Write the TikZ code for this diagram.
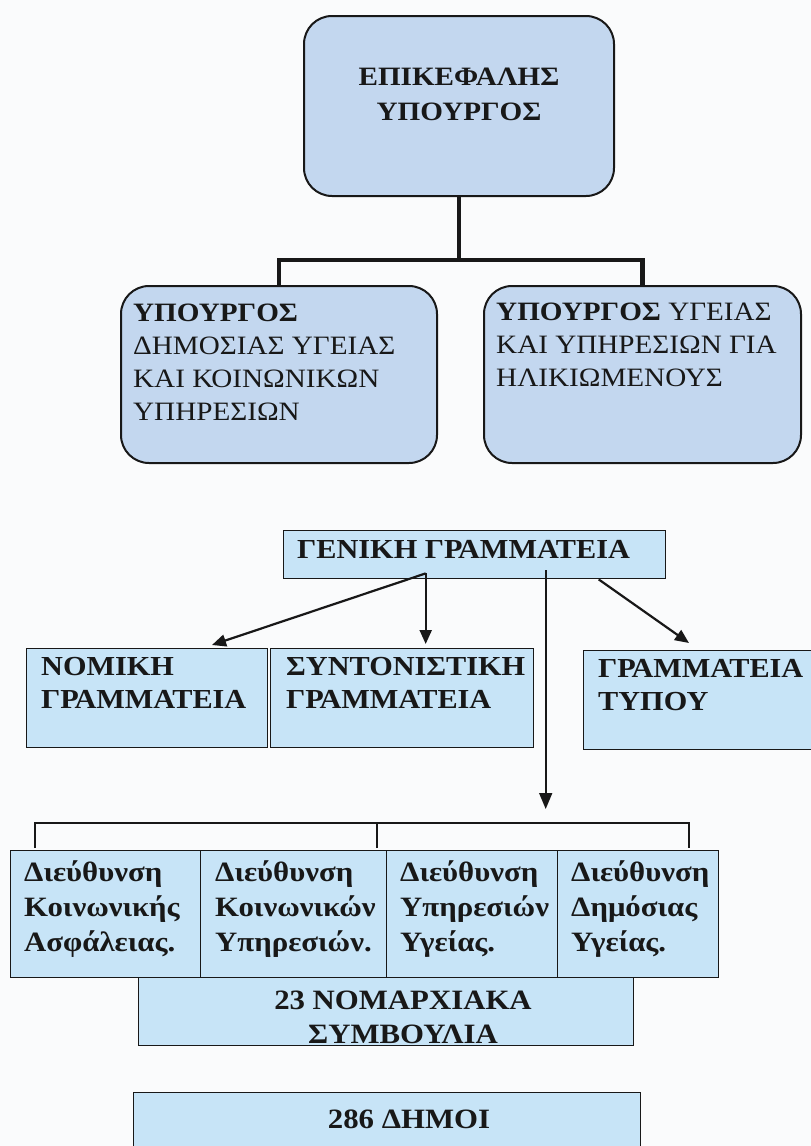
\documentclass[tikz,border=0pt]{standalone}
\usepackage{fontspec}
\setmainfont{Liberation Serif}[FakeStretch=1.1]
\usetikzlibrary{arrows.meta,calc}
\definecolor{paper}{RGB}{250,251,252}
\definecolor{roundfill}{RGB}{195,215,239}
\definecolor{rectfill}{RGB}{199,228,247}
\definecolor{ink}{RGB}{24,24,24}
\begin{document}
\begin{tikzpicture}[x=1pt,y=-1pt,
  rbox/.style={draw=ink, line width=2pt, fill=roundfill, rounded corners=28pt,
               inner sep=0pt, anchor=north west},
  sbox/.style={draw=ink, line width=1.4pt, fill=rectfill, inner sep=0pt, anchor=north west},
  lbl/.style={inner sep=0pt, align=left, anchor=north west, text=ink,
              font=\fontsize{26.5}{33}\selectfont},
  blbl/.style={lbl, font=\fontsize{27.5}{33}\selectfont\bfseries},
  dlbl/.style={lbl, font=\fontsize{28}{35}\selectfont\bfseries},
  clbl/.style={inner sep=0pt, align=center, text=ink,
               font=\fontsize{28}{34}\selectfont\bfseries},
  tree/.style={draw=ink, line width=4.5pt},
  arr/.style={draw=ink, line width=2.2pt, -{Triangle[length=14pt,width=12pt]}},
  longarr/.style={draw=ink, line width=1.6pt, -{Triangle[length=16pt,width=13pt]}},
  bline/.style={draw=ink, line width=1.5pt}]
\useasboundingbox (0,0) rectangle (811,1146);
\clip (0,0) rectangle (811,1146);
\fill[paper] (0,0) rectangle (811,1146);

% ministers
\node[rbox, minimum width=310pt, minimum height=180pt] (chief) at (303,15) {};
\node[rbox, minimum width=316pt, minimum height=177pt] (minA) at (120,285) {};
\node[rbox, minimum width=317pt, minimum height=177pt] (minB) at (483,285) {};

\node[clbl, font=\fontsize{26.5}{35}\selectfont\bfseries] (chief-t) at (459,94) {ΕΠΙΚΕΦΑΛΗΣ\\ΥΠΟΥΡΓΟΣ};
\node[lbl] (minA-t) at (133,304) {{\bfseries ΥΠΟΥΡΓΟΣ}\\ΔΗΜΟΣΙΑΣ ΥΓΕΙΑΣ\\ΚΑΙ ΚΟΙΝΩΝΙΚΩΝ\\ΥΠΗΡΕΣΙΩΝ};
\node[lbl] (minB-t) at (496,303) {{\bfseries ΥΠΟΥΡΓΟΣ} ΥΓΕΙΑΣ\\ΚΑΙ ΥΠΗΡΕΣΙΩΝ ΓΙΑ\\ΗΛΙΚΙΩΜΕΝΟΥΣ};

\coordinate (split) at (459,260);
\draw[tree] (chief.south) -- (split);
\draw[tree] (minA.north) |- (split) -| (minB.north);

% general secretariat and its offices
\node[sbox, minimum width=382pt, minimum height=48pt] (gen) at (283,530) {};
\node[sbox, minimum width=241pt, minimum height=99pt] (legal) at (26,648) {};
\node[sbox, minimum width=263pt, minimum height=99pt] (coord) at (270,648) {};
\node[sbox, minimum width=240pt, minimum height=99pt] (press) at (583,650) {};

\node[blbl] (gen-t) at (297,540) {ΓΕΝΙΚΗ ΓΡΑΜΜΑΤΕΙΑ};
\node[blbl] (legal-t) at (41,657) {ΝΟΜΙΚΗ\\ΓΡΑΜΜΑΤΕΙΑ};
\node[blbl] (coord-t) at (286,657) {ΣΥΝΤΟΝΙΣΤΙΚΗ\\ΓΡΑΜΜΑΤΕΙΑ};
\node[blbl] (press-t) at (598,659) {ΓΡΑΜΜΑΤΕΙΑ\\ΤΥΠΟΥ};

\coordinate (g1) at ([xshift=-49pt,yshift=6pt]gen.south);
\coordinate (g2) at ([xshift=71pt,yshift=9pt]gen.south);
\coordinate (g3) at ([xshift=124pt]gen.south);
\draw[arr] (g1) -- ($(legal.north west)+(186,-3)$);
\draw[arr] (g1) -- ($(g1 |- coord.north)+(0,-4)$);
\draw[arr] (g3) -- ($(press.north west)+(106,-7)$);

% directorates
\node[sbox, minimum width=190pt, minimum height=127pt] (dir1) at (10,850) {};
\node[sbox, minimum width=186pt, minimum height=127pt] (dir2) at (200,850) {};
\node[sbox, minimum width=171pt, minimum height=127pt] (dir3) at (386,850) {};
\node[sbox, minimum width=161pt, minimum height=127pt] (dir4) at (557,850) {};

\node[dlbl] (dir1-t) at (24,860) {Διεύθυνση\\Κοινωνικής\\Ασφάλειας.};
\node[dlbl] (dir2-t) at (215,860) {Διεύθυνση\\Κοινωνικών\\Υπηρεσιών.};
\node[dlbl] (dir3-t) at (400,860) {Διεύθυνση\\Υπηρεσιών\\Υγείας.};
\node[dlbl] (dir4-t) at (571,860) {Διεύθυνση\\Δημόσιας\\Υγείας.};

\coordinate (fan) at ($(g2 |- dir1.north)+(0,-41)$);
\draw[longarr] (g2) -- (fan);
\draw[bline] ($(dir1.north west)+(25,-2)$) -- ++(0,-25) -| ($(dir4.north west)+(132,-2)$);
\draw[bline] ($(dir2.north west)+(177,-2)$) -- ++(0,-25);

% prefectures and municipalities
\node[sbox, minimum width=495pt, minimum height=68pt] (pref) at (138,977) {};
\node[sbox, minimum width=507pt, minimum height=80pt] (mun) at (133,1092) {};
\node[clbl] (pref-t) at (403,1017) {23 ΝΟΜΑΡΧΙΑΚΑ\\ΣΥΜΒΟΥΛΙΑ};
\node[clbl] (mun-t) at (409,1119) {286 ΔΗΜΟΙ};
\end{tikzpicture}
\end{document}
